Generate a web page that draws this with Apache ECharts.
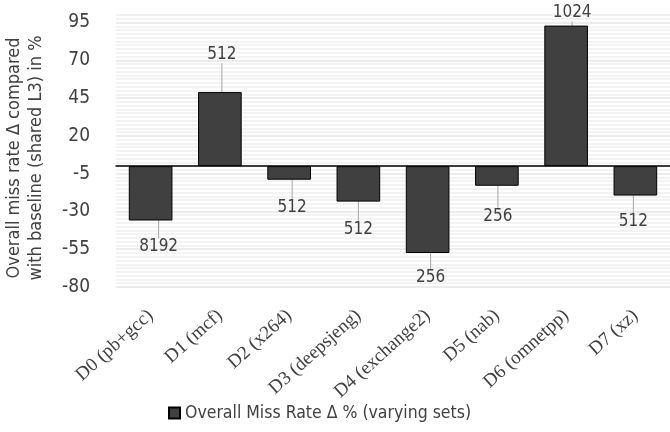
<!DOCTYPE html>
<html>
<head>
<meta charset="utf-8">
<script src="https://cdn.jsdelivr.net/npm/echarts@6/dist/echarts.min.js"></script>
<style>html,body{margin:0;padding:0;background:#fff}#c{width:670px;height:432px}</style>
</head>
<body>
<div id="c"></div>
<script>
var categories = ['D0 (pb+gcc)', 'D1 (mcf)', 'D2 (x264)', 'D3 (deepsjeng)', 'D4 (exchange2)', 'D5 (nab)', 'D6 (omnetpp)', 'D7 (xz)'];
var values = [-36, 49, -9, -23.5, -57.5, -13, 93, -19.5];
var barLabels = ['8192', '512', '512', '512', '256', '256', '1024', '512'];
var seriesName = 'Overall Miss Rate \u0394 % (varying sets)';
var yTitle = 'Overall miss rate \u0394 compared\nwith baseline (shared L3) in %';

// label nudges (display only)
var labelOffsets = [[8, 13], [2, -24], [3, 14], [0, 14], [3, 11], [1, 17], [6, 1], [-2, 13]];

var FONT = "'Liberation Sans Narrow', 'DejaVu Sans Condensed', sans-serif";
var TXT = '#404040';

var chart = echarts.init(document.getElementById('c'), null, {renderer: 'canvas'});
var majorColors = ['#d9d9d9','#d9d9d9','#d9d9d9','#d9d9d9','#d9d9d9','#d9d9d9','#d9d9d9','#d9d9d9','#eeeeee'];

chart.setOption({
  animation: false,
  grid: {left: 116, right: 0, top: 15, bottom: 145, containLabel: false, outerBoundsMode: 'none'},
  legend: {
    bottom: 5, left: 163,
    icon: 'rect', itemWidth: 11, itemHeight: 11, itemGap: 5,
    textStyle: {fontFamily: FONT, fontSize: 17.5, color: TXT},
    data: [seriesName]
  },
  xAxis: [{
    type: 'category', data: categories, position: 'bottom',
    axisLine: {show: false, onZero: false},
    axisTick: {show: false},
    axisLabel: {rotate: 42, margin: 26, fontFamily: "'Liberation Serif', serif", fontSize: 19, color: TXT, interval: 0}
  }, {
    type: 'category', data: categories,
    axisLine: {show: true, onZero: true, lineStyle: {color: '#000', width: 1.5}},
    axisTick: {show: false}, axisLabel: {show: false}
  }],
  yAxis: [{
    type: 'value', min: -80, max: 100, interval: 25,
    axisLine: {show: false}, axisTick: {show: false},
    axisLabel: {showMaxLabel: false, margin: 26, fontFamily: FONT, fontSize: 19, color: TXT},
    splitLine: {show: true, lineStyle: {color: majorColors, width: 1.5}},
    name: yTitle, nameLocation: 'middle', nameRotate: 90, nameGap: 69,
    nameTextStyle: {fontFamily: FONT, fontSize: 18, color: TXT, lineHeight: 22, padding: [0, 14, 0, 0]}
  }, {
    type: 'value', min: -80, max: 100, interval: 2.5,
    axisLine: {show: false}, axisTick: {show: false}, axisLabel: {show: false},
    splitLine: {show: true, lineStyle: {color: '#efefef', width: 1.5}}
  }],
  series: [{
    type: 'bar', name: seriesName, xAxisIndex: 0, yAxisIndex: 0,
    barWidth: '63%',
    itemStyle: {color: '#404040', borderColor: '#000', borderWidth: 1},
    data: values.map(function (v, i) {
      return {value: v, label: {position: v < 0 ? 'bottom' : 'top'}};
    }),
    label: {
      show: true, distance: 5,
      formatter: function (p) { return barLabels[p.dataIndex]; },
      fontFamily: FONT, fontSize: 17, color: TXT
    },
    labelLine: {show: true, lineStyle: {color: '#a6a6a6', width: 1}},
    labelLayout: function (p) {
      var o = labelOffsets[p.dataIndex];
      return {dx: o[0], dy: o[1]};
    }
  }]
});
</script>
</body>
</html>
